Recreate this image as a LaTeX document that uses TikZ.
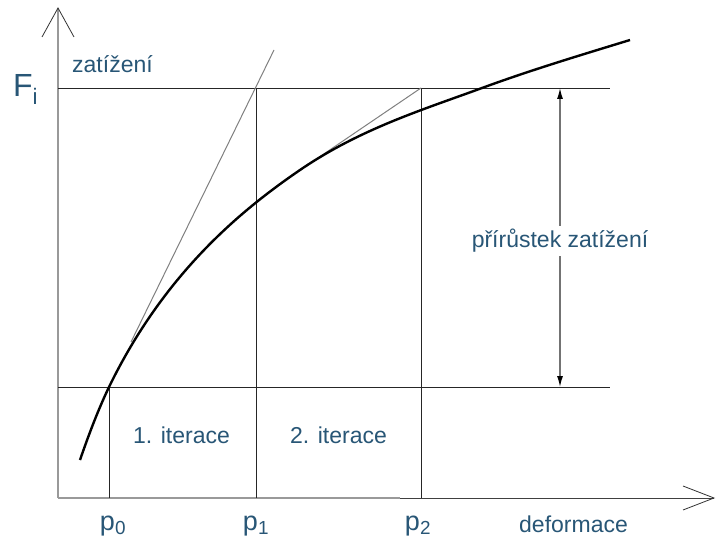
\documentclass[tikz,border=0pt]{standalone}
\usepackage{fontspec}
\setmainfont{Liberation Sans}
\usetikzlibrary{arrows.meta}
\definecolor{txt}{RGB}{40,86,118}
\begin{document}
\begin{tikzpicture}[x=1pt,y=-1pt,
  gridln/.style={draw=black!85, line width=0.9pt},
  axisln/.style={draw=black!40, line width=1.3pt},
  armln/.style={draw=black!80, line width=0.8pt},
  tang/.style={draw=black!50, line width=1pt},
  curveln/.style={draw=black, line width=2.4pt},
  lbl/.style={text=txt, inner sep=0pt, font=\fontsize{23}{27}\selectfont},
  plbl/.style={text=txt, inner sep=0pt, font=\fontsize{27}{30}\selectfont},
  flbl/.style={text=txt, inner sep=0pt, font=\fontsize{32}{36}\selectfont},
]
\useasboundingbox (0,0) rectangle (716,543);
\fill[white] (0,0) rectangle (716,543);
% coordinates
\coordinate (O) at (58,498);
\coordinate (ytip) at (58,8);
\coordinate (yl) at (42,37);
\coordinate (yr) at (74,37);
\coordinate (xmid) at (400,498);
\coordinate (xtip) at (714,498);
\coordinate (xu) at (683,486);
\coordinate (xd) at (683,510);
\coordinate (hTl) at (58,88);
\coordinate (hTr) at (610,88);
\coordinate (hBl) at (58,387);
\coordinate (hBr) at (610,387);
\coordinate (p0t) at (109,387);
\coordinate (p0b) at (109,498);
\coordinate (p1t) at (256,88);
\coordinate (p1b) at (256,498);
\coordinate (p2t) at (421,88);
\coordinate (p2b) at (421,498);
\coordinate (t1a) at (131,342);
\coordinate (t1b) at (274,50);
\coordinate (t2a) at (312,162);
\coordinate (t2b) at (421,88);
\coordinate (da) at (560,88);
\coordinate (db) at (560,387);
% curve points
\coordinate (c0) at (80,460);
\coordinate (c1) at (109,387);
\coordinate (c2) at (300,170);
\coordinate (c3) at (482,88);
\coordinate (c4) at (630,40);
% axes
\draw[axisln] (O) -- (ytip);
\draw[armln] (yl) -- (ytip) -- (yr);
\draw[axisln] (O) -- (xmid);
\draw[axisln, draw=black!75, line width=1pt] (xmid) -- (xtip);
\draw[armln] (xu) -- (xtip) -- (xd);
% grid
\draw[gridln] (hTl) -- (hTr);
\draw[gridln] (hBl) -- (hBr);
\draw[gridln] (p0t) -- (p0b);
\draw[gridln] (p1t) -- (p1b);
\draw[gridln] (p2t) -- (p2b);
% tangents
\draw[tang] (t1a) -- (t1b);
\draw[tang] (t2a) -- (t2b);
% curve
\draw[curveln] (c0) .. controls (90,431) and (99,408) .. (c1)
  .. controls (164,274) and (240,211) .. (c2)
  .. controls (360,129) and (422,110) .. (c3)
  .. controls (531,70) and (581,55) .. (c4);
% increment arrow
\draw[draw=black!55, line width=1.3pt, {Latex[length=11pt,width=6pt,color=black]}-{Latex[length=11pt,width=6pt,color=black]}] (da) -- (db);
\node[lbl, fill=white, inner sep=3pt] (inc) at (560,241) {přírůstek zatížení};
% labels
\node[flbl, anchor=base west] (F) at (13,97) {F\textsubscript{i}};
\node[lbl, anchor=base west] (zat) at (72,73) {zatížení};
\node[lbl, anchor=base west] (it1) at (133,443) {1. iterace};
\node[lbl, anchor=base west] (it2) at (290,443) {2. iterace};
\node[plbl, anchor=base] (p0) at (113,530) {p\textsubscript{0}};
\node[plbl, anchor=base] (p1) at (256,530) {p\textsubscript{1}};
\node[plbl, anchor=base] (p2) at (418,530) {p\textsubscript{2}};
\node[lbl, anchor=base west] (def) at (519,532) {deformace};
\end{tikzpicture}
\end{document}
